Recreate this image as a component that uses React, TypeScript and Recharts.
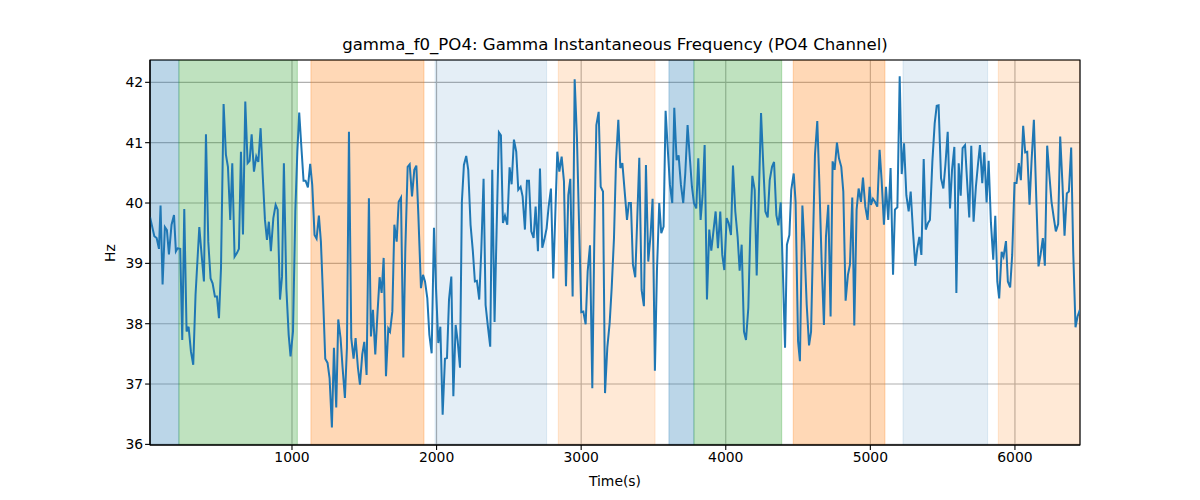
import React from 'react';
import {
  LineChart, Line, XAxis, YAxis, CartesianGrid, ReferenceArea,
} from 'recharts';

const times = [
  18, 48, 64, 80, 91, 105, 121, 135, 149, 167, 184, 197, 209, 227, 241, 255, 271, 285, 301, 317,
  333, 359, 375, 391, 405, 421, 437, 451, 467, 481, 495, 509, 527, 543, 557, 573, 587, 603, 619, 633,
  647, 661, 677, 693, 707, 721, 737, 753, 767, 783, 797, 813, 827, 840,
  854, 871, 887, 901, 917, 931, 944, 961, 977, 990, 1007, 1023, 1037, 1050, 1067, 1080, 1094, 1110, 1126, 1140,
  1156, 1170, 1186, 1200, 1216, 1230, 1246, 1260, 1276, 1290, 1306, 1320, 1336, 1350, 1366, 1380, 1394, 1410, 1426, 1440,
  1456, 1470, 1486, 1500, 1516, 1532, 1546, 1560, 1576, 1592, 1606, 1620, 1634, 1650, 1666, 1678,
  1694, 1708, 1724, 1738, 1754, 1770, 1784, 1800, 1814, 1830, 1846, 1860, 1874, 1892, 1906, 1920, 1936, 1950, 1966, 1982,
  1996, 2012, 2026, 2042, 2058, 2072, 2086, 2102, 2116, 2132, 2146, 2162, 2175, 2189, 2205, 2219, 2235, 2251, 2265, 2279,
  2295, 2309, 2325, 2339, 2355, 2371, 2385, 2401, 2415, 2431, 2445, 2459, 2473, 2489, 2505,
  2519, 2535, 2551, 2565, 2581, 2595, 2611, 2625, 2639, 2655, 2671, 2685, 2701, 2715, 2731, 2745, 2761, 2775, 2791, 2807,
  2821, 2835, 2849, 2865, 2881, 2895, 2911, 2925, 2941, 2955, 2971, 2985, 3001, 3015, 3031, 3045, 3061, 3077, 3091, 3105,
  3121, 3135, 3151, 3165, 3181, 3197, 3211, 3227, 3241, 3257, 3271, 3285, 3301, 3317, 3330,
  3344, 3358, 3374, 3388, 3402, 3418, 3434, 3448, 3464, 3480, 3494, 3510, 3524, 3540, 3554, 3570, 3584, 3600, 3614, 3630,
  3644, 3660, 3674, 3690, 3706, 3720, 3736, 3750, 3766, 3780, 3796, 3810, 3826, 3840, 3854, 3870, 3886, 3900, 3916, 3930,
  3946, 3962, 3976, 3990, 4006, 4020, 4036, 4050, 4066, 4082, 4096, 4110, 4126, 4140,
  4156, 4170, 4184, 4200, 4214, 4230, 4244, 4260, 4274, 4290, 4304, 4320, 4334, 4350, 4364, 4380, 4393, 4410, 4423, 4440,
  4453, 4470, 4483, 4500, 4513, 4530, 4543, 4560, 4576, 4590, 4603, 4617, 4633, 4647, 4663, 4679, 4693, 4709, 4725, 4739,
  4753, 4769, 4783, 4799, 4813, 4829, 4845, 4859, 4875, 4889, 4905, 4919, 4935, 4949, 4965, 4981, 4995,
  5004, 5018, 5032, 5048, 5064, 5078, 5094, 5108, 5124, 5140, 5157, 5170, 5187, 5203, 5217, 5233, 5249, 5265, 5279, 5295,
  5311, 5325, 5339, 5353, 5369, 5383, 5399, 5412, 5429, 5445, 5459, 5472, 5489, 5505, 5519, 5535, 5551, 5565, 5581, 5595,
  5611, 5625, 5638, 5655, 5668, 5684, 5698, 5714, 5730, 5744, 5758, 5774, 5788, 5804, 5818,
  5834, 5850, 5864, 5878, 5891, 5908, 5921, 5938, 5951, 5967, 5981, 5997, 6011, 6027, 6041, 6057, 6071, 6085, 6101, 6115,
  6131, 6147, 6163, 6177, 6193, 6207, 6223, 6239, 6253, 6269, 6283, 6299, 6313, 6329, 6343, 6359, 6373, 6389, 6403, 6419,
  6433, 6449,
];

const hz = [
  39.77, 39.45, 39.42, 39.24, 39.96, 38.65, 39.6, 39.55, 39.15, 39.64, 39.8, 39.2, 39.25, 39.24, 37.73, 39.9, 37.87, 37.95, 37.54, 37.32,
  38.48, 39.6, 39.14, 38.7, 41.14, 39.36, 38.75, 38.67, 38.45, 38.45, 38.09, 38.92, 41.64, 40.8, 40.6, 39.72, 40.66, 39.11, 39.17, 39.24,
  40.85, 39.48, 41.68, 40.66, 40.7, 41.14, 40.52, 40.77, 40.68, 41.24, 40.49, 39.72, 39.39, 39.69,
  39.2, 39.75, 39.97, 39.89, 38.4, 38.78, 40.66, 38.59, 37.82, 37.46, 37.87, 39.86, 40.85, 41.5, 40.85, 40.37, 40.37, 40.26, 40.65, 40.3,
  39.47, 39.41, 39.79, 39.36, 38.37, 37.42, 37.35, 37.1, 36.28, 37.6, 36.61, 38.07, 37.76, 37.27, 36.77, 37.6, 41.18, 37.76, 37.42, 37.76,
  37.27, 36.99, 37.49, 37.7, 37.15, 40.08, 37.79, 38.23, 37.49, 38.2, 38.77, 38.51, 39.09, 37.13, 37.92, 37.87,
  38.2, 39.64, 39.36, 40.02, 40.09, 37.44, 39.25, 40.6, 40.64, 40.11, 40.55, 40.62, 39.8, 38.59, 38.81, 38.7, 38.42, 37.82, 37.51, 39.59,
  38.59, 37.68, 37.95, 36.49, 37.42, 37.43, 38.4, 38.78, 36.8, 37.98, 37.71, 37.27, 40.02, 40.63, 40.78, 40.55, 39.64, 39.2, 38.7, 38.71,
  38.4, 39.2, 40.4, 38.31, 37.95, 37.62, 40.55, 38.03, 39.53, 41.17, 41.12, 39.67, 39.79, 39.64, 40.59,
  40.31, 41.05, 40.85, 40.22, 40.27, 40.11, 39.56, 40.37, 40.37, 39.53, 39.42, 39.94, 39.2, 40.57, 39.26, 39.39, 39.58, 39.94, 40.24, 38.75,
  39.8, 40.85, 40.52, 40.77, 40.36, 38.62, 40.13, 40.4, 38.45, 42.05, 41.07, 39.69, 38.19, 38.2, 37.99, 38.87, 39.3, 36.93, 39.42, 41.29,
  41.51, 40.27, 40.19, 36.85, 37.61, 38.01, 38.59, 39.42, 40.69, 41.38, 40.58, 40.66, 40.19, 39.72, 40.0,
  40.0, 38.98, 38.77, 39.75, 40.75, 38.56, 38.29, 40.63, 39.03, 39.47, 40.07, 37.22, 38.87, 40.0, 39.5, 39.61, 41.53, 40.85, 40.3, 40.0,
  41.58, 40.71, 40.79, 40.3, 40.0, 40.49, 41.29, 40.8, 40.27, 40.0, 39.91, 40.74, 39.72, 40.13, 40.96, 38.4, 39.56, 39.21, 39.56, 39.86,
  39.25, 39.86, 39.14, 38.89, 39.75, 39.67, 39.47, 40.62, 39.86, 39.44, 38.88, 39.31, 37.87, 37.73,
  38.26, 39.58, 40.45, 40.22, 38.8, 40.24, 41.49, 40.6, 39.86, 39.76, 40.38, 40.6, 40.68, 39.8, 39.63, 40.01, 39.03, 37.6, 39.31, 39.47,
  40.22, 40.49, 40.02, 37.71, 37.38, 39.96, 39.36, 38.31, 37.64, 37.87, 39.31, 40.8, 41.36, 40.36, 39.03, 37.98, 39.44, 39.97, 38.12, 40.69,
  40.55, 41.0, 40.74, 40.6, 40.19, 38.38, 38.81, 38.98, 40.09, 37.97, 39.89, 40.24, 40.02, 40.42, 39.94, 39.72, 40.27,
  39.97, 40.07, 40.02, 39.94, 40.88, 40.38, 39.64, 40.27, 39.72, 40.58, 38.81, 39.89, 39.93, 42.1, 40.48, 40.99, 40.13, 39.86, 40.19, 39.53,
  38.96, 39.25, 39.44, 39.14, 40.73, 39.56, 39.67, 39.72, 40.69, 41.32, 41.61, 41.62, 40.41, 40.24, 40.63, 41.18, 39.91, 40.55, 40.93, 38.51,
  40.66, 40.12, 40.91, 40.96, 40.41, 39.76, 40.95, 39.69, 40.27, 40.63, 40.96, 40.33, 40.84, 40.01, 40.7,
  39.67, 39.06, 39.79, 38.7, 38.42, 39.19, 39.11, 39.37, 38.7, 38.6, 39.14, 40.33, 40.33, 40.66, 40.38, 41.28, 40.84, 40.85, 39.97, 40.7,
  41.38, 40.13, 38.95, 39.14, 39.42, 38.96, 40.95, 40.44, 40.02, 39.75, 39.53, 39.65, 41.1, 40.3, 39.46, 40.16, 40.19, 40.92, 39.2, 37.94,
  38.12, 38.23,
];

// shaded segments: [start, end, colour, opacity]
const spanStarts = [18, 218, 1131, 1989, 2842, 3607, 3780, 4467, 5226, 5885];
const spanEnds = [218, 1037, 1913, 2761, 3511, 3780, 4387, 5101, 5811, 6450];
const spanColors = ['#1f77b4', '#2ca02c', '#ff7f0e', '#1f77b4', '#ff7f0e', '#1f77b4', '#2ca02c', '#ff7f0e', '#1f77b4', '#ff7f0e'];
const spanAlphas = [0.3, 0.3, 0.3, 0.12, 0.17, 0.3, 0.3, 0.3, 0.12, 0.17];

const xTicks = [1000, 2000, 3000, 4000, 5000, 6000];
const yTicks = [36, 37, 38, 39, 40, 41, 42];
const xDomain = [18, 6450];
const yDomain = [35.99, 42.37];

const font = 'DejaVu Sans, sans-serif';
const tickStyle = { fill: '#000', fontSize: 13.9, fontFamily: font };

export default function App() {
  const data = times.map((t, i) => ({ t, hz: hz[i] }));

  return (
    <div style={{ position: 'absolute', left: 0, top: 0, width: 1200, height: 500, background: '#fff' }}>
      <div style={{
        position: 'absolute', left: 150, width: 930, top: 35, textAlign: 'center',
        fontFamily: font, fontSize: 16.6, lineHeight: '20px', color: '#000',
      }}>
        gamma_f0_PO4: Gamma Instantaneous Frequency (PO4 Channel)
      </div>
      <div style={{
        position: 'absolute', left: 150, width: 930, top: 472, textAlign: 'center',
        fontFamily: font, fontSize: 13.9, lineHeight: '18px', color: '#000',
      }}>
        Time(s)
      </div>
      <div style={{
        position: 'absolute', left: 110, top: 253, transform: 'translate(-50%, -50%) rotate(-90deg)',
        fontFamily: font, fontSize: 13.9, lineHeight: '18px', color: '#000',
      }}>
        Hz
      </div>
      <LineChart
        width={1200}
        height={500}
        data={data}
        margin={{ top: 60, right: 120, bottom: 25, left: 110 }}
        style={{ position: 'absolute', left: 0, top: 0 }}
      >
        {spanStarts.map((s, i) => (
          <ReferenceArea
            key={i}
            x1={s}
            x2={spanEnds[i]}
            y1={yDomain[0]}
            y2={yDomain[1]}
            fill={spanColors[i]}
            fillOpacity={spanAlphas[i]}
            stroke={spanColors[i]}
            strokeOpacity={spanAlphas[i]}
            ifOverflow="hidden"
          />
        ))}
        <CartesianGrid stroke="#b0b0b0" strokeWidth={1.1} />
        <XAxis
          dataKey="t"
          type="number"
          domain={xDomain}
          ticks={xTicks}
          allowDataOverflow
          height={30}
          tick={tickStyle}
          tickSize={4.9}
          tickLine={{ stroke: '#000', strokeWidth: 1.1 }}
          axisLine={{ stroke: '#000', strokeWidth: 1.1 }}
        />
        <YAxis
          type="number"
          domain={yDomain}
          ticks={yTicks}
          allowDataOverflow
          width={40}
          tick={tickStyle}
          tickSize={4.9}
          tickLine={{ stroke: '#000', strokeWidth: 1.1 }}
          axisLine={{ stroke: '#000', strokeWidth: 1.1 }}
        />
        <Line
          dataKey="hz"
          type="linear"
          stroke="#1f77b4"
          strokeWidth={2}
          dot={false}
          isAnimationActive={false}
        />
        <ReferenceArea
          x1={xDomain[0]}
          x2={xDomain[1]}
          y1={yDomain[0]}
          y2={yDomain[1]}
          fill="none"
          stroke="#000"
          strokeWidth={1.1}
        />
      </LineChart>
    </div>
  );
}
